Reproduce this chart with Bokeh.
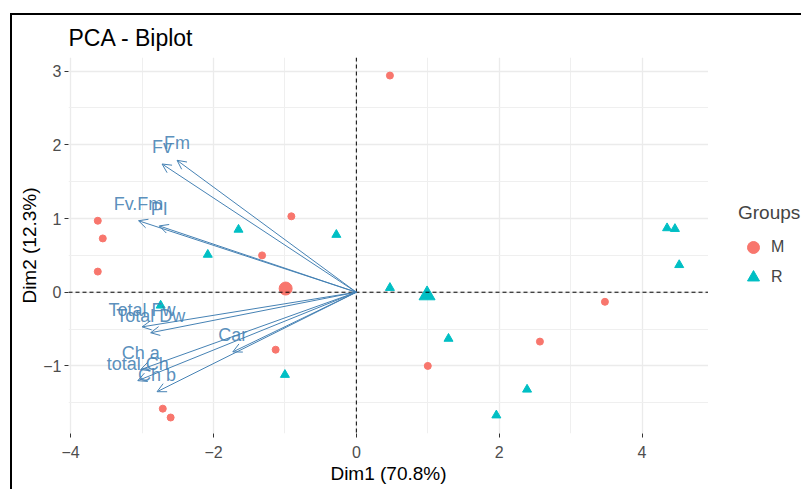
from bokeh.plotting import figure
from bokeh.layouts import row
from bokeh.models import (ColumnDataSource, Range1d, FixedTicker, Span, Arrow,
                          OpenHead, Legend, LegendItem)
from bokeh.core.properties import value
from bokeh.embed import file_html
from bokeh.resources import INLINE

# ---- data ----
m_x = [0.47, -0.91, -3.62, -3.55, -3.62, -1.32, -1.13, -2.71, -2.60, 1.00, 2.57, 3.48]
m_y = [2.94, 1.03, 0.97, 0.73, 0.28, 0.50, -0.78, -1.58, -1.70, -1.00, -0.67, -0.13]
r_x = [-1.65, -2.08, -0.28, 0.47, -2.74, -1.00, 1.29, 2.39, 1.96, 4.35, 4.46, 4.52]
r_y = [0.85, 0.51, 0.78, 0.06, -0.18, -1.12, -0.63, -1.32, -1.67, 0.87, 0.86, 0.37]
mean_m = [-0.99, 0.05]
mean_r = [0.99, -0.04]

var_names = ["Fv.Fm", "PI", "Fm", "Fv", "Total Fw", "Total Dw", "Car", "Ch a", "total Ch", "Ch b"]
var_x = [-3.05, -2.76, -2.51, -2.72, -3.00, -2.88, -1.73, -3.02, -3.06, -2.79]
var_y = [0.97, 0.90, 1.79, 1.74, -0.47, -0.55, -0.81, -1.05, -1.20, -1.35]

groups = ["M", "R"]

x_ticks = [-4, -2, 0, 2, 4]
x_minor = [-3, -1, 1, 3]
y_ticks = [-1, 0, 1, 2, 3]
y_minor = [-1.5, -0.5, 0.5, 1.5, 2.5]

FONT = "Liberation Sans"
RED = "#F8766D"
TEAL = "#00BFC4"
BLUE = "#4682B4"
H = 474

p = figure(width=696, height=H, output_backend="svg", toolbar_location=None,
           x_range=Range1d(-4.03, 4.93), y_range=Range1d(-1.917, 3.185),
           min_border_left=56, min_border_right=0, min_border_top=42,
           min_border_bottom=56)
p.outline_line_color = None
p.background_fill_color = "white"
p.border_fill_color = "white"

# title
p.title.text = "PCA - Biplot"
p.title.text_font = FONT
p.title.text_font_size = "23px"
p.title.text_font_style = "normal"
p.title.text_color = "black"
p.title.align = "left"
p.title.standoff = 14

# axes
for ax, ticks, minor, lab in ((p.xaxis[0], x_ticks, x_minor, "Dim1 (70.8%)"),
                              (p.yaxis[0], y_ticks, y_minor, "Dim2 (12.3%)")):
    ax.ticker = FixedTicker(ticks=ticks, minor_ticks=minor)
    ax.axis_label = lab
    ax.axis_label_text_font = FONT
    ax.axis_label_text_font_size = "19px"
    ax.axis_label_text_font_style = "normal"
    ax.axis_label_text_color = "black"
    ax.axis_line_color = None
    ax.major_tick_in = 0
    ax.major_tick_out = 4
    ax.major_tick_line_color = "#333333"
    ax.minor_tick_line_color = None
    ax.major_label_text_font = FONT
    ax.major_label_text_font_size = "16px"
    ax.major_label_text_color = "#4D4D4D"

p.xaxis[0].major_label_standoff = 8
p.xaxis[0].axis_label_standoff = 2
p.yaxis[0].major_label_standoff = 3
p.yaxis[0].axis_label_standoff = 0

p.xgrid.ticker = FixedTicker(ticks=x_ticks, minor_ticks=x_minor)
p.ygrid.ticker = FixedTicker(ticks=y_ticks, minor_ticks=y_minor)
for g in (p.xgrid[0], p.ygrid[0]):
    g.grid_line_color = "#EBEBEB"
    g.grid_line_width = 1.3
    g.minor_grid_line_color = "#EFEFEF"
    g.minor_grid_line_width = 1

# reference lines at 0
p.add_layout(Span(location=0, dimension="height", line_color="black",
                  line_dash="4 3", line_width=1))
p.add_layout(Span(location=0, dimension="width", line_color="black",
                  line_dash="4 3", line_width=1))

# individuals
src_m = ColumnDataSource(dict(x=m_x, y=m_y))
src_r = ColumnDataSource(dict(x=r_x, y=r_y))
p.scatter("x", "y", source=src_m, marker="circle", size=7,
          fill_color=RED, line_color=RED)
p.scatter("x", "y", source=src_r, marker="triangle", size=9,
          fill_color=TEAL, line_color=TEAL)
p.scatter([mean_m[0]], [mean_m[1]], marker="circle", size=13,
          fill_color=RED, line_color=RED)
p.scatter([mean_r[0]], [mean_r[1]], marker="triangle", size=16,
          fill_color=TEAL, line_color=TEAL)

# variables
vsrc = ColumnDataSource(dict(x=var_x, y=var_y, name=var_names,
                             x0=[0] * len(var_x), y0=[0] * len(var_x)))
p.add_layout(Arrow(end=OpenHead(size=9, line_color=BLUE, line_width=1),
                   x_start="x0", y_start="y0", x_end="x", y_end="y",
                   source=vsrc, line_color=BLUE, line_width=1))
p.text(x="x", y="y", text="name", source=vsrc, text_font=value(FONT),
       text_font_size="18px", text_color=BLUE, text_alpha=0.9,
       text_align="center", text_baseline="middle", y_offset=-17)

# legend panel (separate small figure to the right; its view range holds no points)
lf = figure(width=93, height=H, output_backend="svg", toolbar_location=None,
            x_range=Range1d(100, 101), y_range=Range1d(100, 101), min_border=0)
lf.axis.visible = False
lf.grid.visible = False
lf.outline_line_color = None
lf.border_fill_color = "white"
lm = lf.scatter("x", "y", source=src_m, marker="circle",
                fill_color=RED, line_color=RED)
lr = lf.scatter("x", "y", source=src_r, marker="triangle",
                fill_color=TEAL, line_color=TEAL)
legend = Legend(items=[LegendItem(label=groups[0], renderers=[lm]),
                       LegendItem(label=groups[1], renderers=[lr])],
                location=(30, 141), title="Groups",
                title_text_font=FONT, title_text_font_size="19px",
                title_text_font_style="normal", title_standoff=8,
                label_text_font=FONT, label_text_font_size="16px",
                glyph_width=30, glyph_height=30, label_standoff=3,
                spacing=0, padding=0, margin=0,
                border_line_color=None, background_fill_alpha=0)
lf.add_layout(legend)

layout = row(p, lf, spacing=0)
layout.styles = {"border-left": "2px solid black", "border-top": "2px solid black",
                 "margin-left": "10px", "margin-top": "13px"}

open("out.html", "w").write(file_html(layout, INLINE))
